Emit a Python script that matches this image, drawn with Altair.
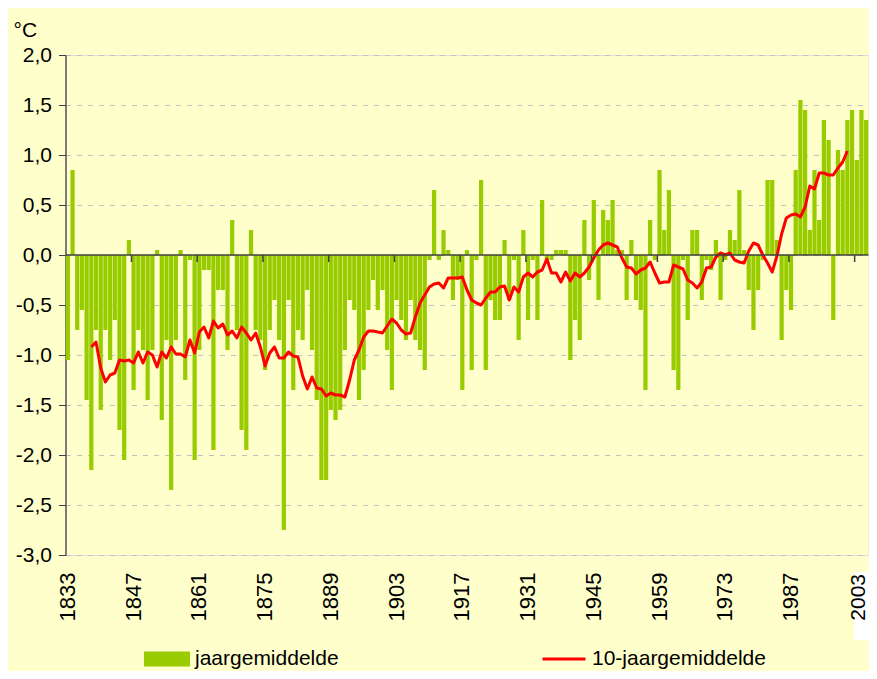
import altair as alt
import pandas as pd

FONT = "Liberation Sans"

# yearly temperature anomaly (°C), one value per year 1833..2003
first_year = 1833
anomalies = [
    -1.05, 0.85, -0.75, -0.55, -1.45, -2.15, -0.75, -1.55, -0.75, -1.05,   # 1833-1842
    -0.65, -1.75, -2.05, 0.15, -1.35, -0.75, -0.95, -1.45, -0.95, 0.05,    # 1843-1852
    -1.65, -0.85, -2.35, -0.85, 0.05, -1.25, -0.05, -2.05, -0.95, -0.15,   # 1853-1862
    -0.15, -1.95, -0.35, -0.35, -0.95, 0.35, -0.75, -1.75, -1.95, 0.25,    # 1863-1872
    -0.75, -0.85, -1.15, -0.75, -0.45, -0.85, -2.75, -0.45, -1.35, -0.75,  # 1873-1882
    -0.85, -0.35, -0.95, -1.45, -2.25, -2.25, -1.55, -1.65, -1.55, -0.95,  # 1883-1892
    -0.45, -0.55, -1.45, -1.15, -0.55, -0.25, -0.55, -0.35, -0.95, -1.35,  # 1893-1902
    -0.45, -0.65, -0.85, -0.45, -0.85, -0.95, -1.15, -0.05, 0.65, -0.05,   # 1903-1912
    0.25, 0.05, -0.45, -0.25, -1.35, 0.05, -1.15, -0.05, 0.75, -1.15,      # 1913-1922
    -0.45, -0.65, -0.65, 0.15, -0.45, -0.05, -0.85, 0.25, -0.65, -0.05,    # 1923-1932
    -0.65, 0.55, -0.05, -0.05, 0.05, 0.05, 0.05, -1.05, -0.65, -0.85,      # 1933-1942
    0.35, -0.25, 0.55, -0.45, 0.45, 0.35, 0.55, 0.05, 0.05, -0.45,         # 1943-1952
    0.15, -0.45, -0.55, -1.35, 0.35, -0.05, 0.85, 0.25, 0.65, -1.15,       # 1953-1962
    -1.35, -0.05, -0.65, 0.25, 0.25, -0.45, -0.05, -0.15, 0.15, -0.45,     # 1963-1972
    -0.05, 0.25, 0.15, 0.65, 0.05, -0.35, -0.75, -0.35, -0.05, 0.75,       # 1973-1982
    0.75, 0.15, -0.85, -0.35, -0.55, 0.85, 1.55, 1.45, 0.25, 0.85,         # 1983-1992
    0.35, 1.35, 1.15, -0.65, 1.05, 0.85, 1.35, 1.45, 0.95, 1.45,           # 1993-2002
    1.35,                                                                  # 2003
]

# 10-year average as drawn (red line), one value per year 1838..1999
ma_first_year = 1838
moving_avg = [
    -0.92, -0.87, -1.13, -1.27, -1.20, -1.18, -1.05, -1.06, -1.05, -1.08,
    -0.97, -1.08, -0.97, -1.00, -1.12, -0.97, -1.03, -0.92, -0.99, -0.99,
    -1.02, -0.85, -0.98, -0.77, -0.72, -0.83, -0.66, -0.73, -0.69, -0.80,
    -0.76, -0.83, -0.72, -0.78, -0.85, -0.78, -0.92, -1.11, -0.98, -0.92,
    -1.03, -1.03, -0.97, -1.01, -1.02, -1.21, -1.34, -1.22, -1.33, -1.34,
    -1.41, -1.38, -1.40, -1.40, -1.42, -1.25, -1.05, -0.95, -0.82, -0.76,
    -0.76, -0.77, -0.78, -0.71, -0.64, -0.68, -0.75, -0.79, -0.78, -0.62,
    -0.48, -0.40, -0.32, -0.29, -0.28, -0.33, -0.23, -0.23, -0.23, -0.22,
    -0.35, -0.45, -0.48, -0.50, -0.43, -0.37, -0.37, -0.32, -0.31, -0.45,
    -0.32, -0.37, -0.22, -0.18, -0.22, -0.17, -0.15, -0.04, -0.18, -0.18,
    -0.27, -0.17, -0.26, -0.18, -0.22, -0.18, -0.12, -0.03, 0.05, 0.10,
    0.12, 0.10, 0.08, -0.03, -0.12, -0.13, -0.19, -0.15, -0.13, -0.07,
    -0.18, -0.28, -0.27, -0.27, -0.10, -0.12, -0.14, -0.25, -0.28, -0.33,
    -0.27, -0.13, -0.12, -0.02, 0.02, 0.00, 0.02, -0.05, -0.07, -0.08,
    0.04, 0.12, 0.10, 0.00, -0.08, -0.17, -0.01, 0.21, 0.37, 0.40,
    0.41, 0.38, 0.48, 0.69, 0.66, 0.82, 0.82, 0.80, 0.80, 0.87,
    0.93, 1.04,
]

label_years = [1833, 1847, 1861, 1875, 1889, 1903, 1917, 1931, 1945, 1959, 1973, 1987]
last_label_year = [2003]
tick_years = [1847, 1861, 1875, 1889, 1903, 1917, 1931, 1945, 1959, 1973, 1987, 2001]
y_ticks = [-3.0, -2.5, -2.0, -1.5, -1.0, -0.5, 0.0, 0.5, 1.0, 1.5, 2.0]

bar_name = "jaargemiddelde"
line_name = "10-jaargemiddelde"

years = list(range(first_year, first_year + len(anomalies)))
bars_df = pd.DataFrame({"jaar": years, "waarde": anomalies, "reeks": bar_name})
ma_years = list(range(ma_first_year, ma_first_year + len(moving_avg)))
line_df = pd.DataFrame({"jaar": ma_years, "waarde": moving_avg, "reeks": line_name})
zero_df = pd.DataFrame({"nul": [0.0]})
ticks_df = pd.DataFrame({"jaar": tick_years, "boven": 0.0, "onder": -0.07})
box_df = pd.DataFrame({"jaar": last_label_year})

x_scale = alt.Scale(domain=years, paddingInner=0.1, paddingOuter=0.05)
y_scale = alt.Scale(domain=[-3, 2], nice=False, zero=False)

x_axis = alt.Axis(
    values=label_years, labelAngle=-90, labelAlign="right", labelBaseline="middle",
    labelPadding=17, labelFontSize=22, labelFont=FONT, labelColor="#000000",
    labelOverlap=False, ticks=False, domain=False, grid=False, title=None, zindex=1,
)
y_axis = alt.Axis(
    values=y_ticks, title="°C", titleAngle=0, titleX=-52.5, titleY=-19,
    titleAlign="left", titleBaseline="alphabetic", titleFont=FONT, titleFontSize=21,
    titleFontWeight="normal", titleColor="#000000",
    labelExpr="(datum.value < 0 ? '-' : '') + replace(format(abs(datum.value), '.1f'), '.', ',')",
    labelFontSize=21, labelFont=FONT, labelColor="#000000", labelPadding=7,
    tickSize=7, tickColor="#404040", domainColor="#404040", domainWidth=1.3,
    grid=True, gridColor="#C0C0C0", gridDash=[5, 6], gridWidth=1,
)

X = alt.X("jaar:O", scale=x_scale, axis=x_axis)

bars = alt.Chart(bars_df).mark_bar().encode(
    x=X,
    y=alt.Y("waarde:Q", scale=y_scale, axis=y_axis),
    y2=alt.datum(0),
    fill=alt.Fill(
        "reeks:N",
        scale=alt.Scale(domain=[bar_name], range=["#99CC00"]),
        legend=alt.Legend(
            title=None, orient="none", legendX=78.5, legendY=581, padding=0,
            symbolType="M-1,-0.33H1V0.33H-1Z", symbolSize=2116, symbolStrokeWidth=0,
            labelFont=FONT, labelFontSize=21, labelColor="#000000", labelOffset=5,
            labelLimit=400,
        ),
    ),
)

zero_line = alt.Chart(zero_df).mark_rule(color="#404040", strokeWidth=1.5).encode(
    y=alt.Y("nul:Q", scale=y_scale, axis=y_axis)
)

tick_marks = alt.Chart(ticks_df).mark_rule(color="#404040", strokeWidth=1.5).encode(
    x=alt.X("jaar:O", scale=x_scale, axis=x_axis, bandPosition=0),
    y=alt.Y("boven:Q", scale=y_scale, axis=y_axis),
    y2="onder:Q",
)

line = alt.Chart(line_df).mark_line(strokeWidth=3, strokeJoin="round").encode(
    x=X,
    y=alt.Y("waarde:Q", scale=y_scale, axis=y_axis),
    stroke=alt.Stroke(
        "reeks:N",
        scale=alt.Scale(domain=[line_name], range=["#FF0000"]),
        legend=alt.Legend(
            title=None, orient="none", legendX=475.5, legendY=581, padding=0,
            symbolType="stroke", symbolSize=1849, symbolStrokeWidth=3,
            labelFont=FONT, labelFontSize=21, labelColor="#000000", labelOffset=5,
            labelLimit=400,
        ),
    ),
)

label_box = alt.Chart(box_df).mark_bar(width=24, color="#FFFFFF").encode(
    x=X,
    y=alt.value(517),
    y2=alt.value(585),
)

last_label = alt.Chart(box_df).mark_text(
    angle=270, align="right", baseline="middle", fontSize=21, font=FONT,
    color="#000000", dy=-7,
).encode(
    x=X,
    y=alt.value(519),
    text=alt.Text("jaar:N"),
)

chart = alt.layer(bars, line, zero_line, tick_marks, label_box, last_label).properties(
    width=803,
    height=500,
    background="#FFFFCC",
    padding={"left": 57.5, "top": 47, "right": 0.5, "bottom": 116},
    autosize=alt.AutoSizeParams(type="none"),
).configure_view(
    fill="#FFFFFF", stroke="#A6A6A6", strokeWidth=1,
).configure(font=FONT)

chart.save("out.html", embed_options={"renderer": "svg", "actions": False})
